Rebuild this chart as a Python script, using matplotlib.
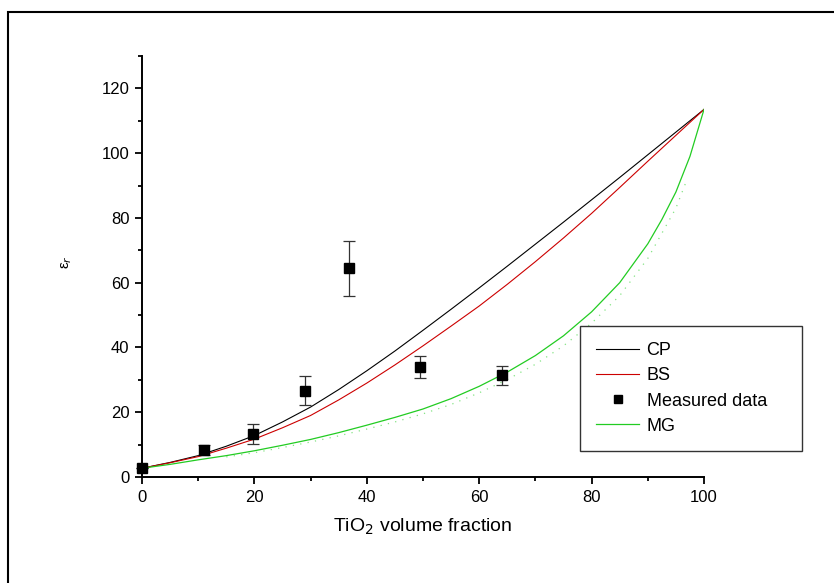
import matplotlib.pyplot as plt
from matplotlib.patches import Rectangle
from matplotlib.ticker import MultipleLocator

plt.rcParams['font.family'] = ['Liberation Sans', 'DejaVu Sans']

# model curves
frac = [0, 5, 10, 15, 20, 25, 30, 35, 40, 45, 50, 55, 60, 65, 70, 75, 80, 85, 90, 92.5, 95, 97.5, 100]
cp = [2.7, 4.5, 6.6, 9.5, 12.8, 17.0, 21.6, 27.0, 32.8, 38.9, 45.3, 51.8, 58.4, 65.1,
      71.9, 78.7, 85.6, 92.5, 99.5, 103.0, 106.5, 110.0, 113.5]
bs = [2.7, 4.4, 6.3, 8.9, 11.7, 15.2, 19.0, 23.8, 29.0, 34.6, 40.5, 46.6, 52.8, 59.5,
      66.5, 73.8, 81.4, 89.4, 97.5, 101.5, 105.5, 109.5, 113.5]
mg = [2.7, 3.9, 5.3, 6.6, 8.1, 9.8, 11.6, 13.7, 16.0, 18.4, 21.0, 24.2, 28.0, 32.4,
      37.5, 43.6, 51.0, 60.0, 72.0, 79.5, 88.0, 99.0, 113.5]

# faint dotted green trace just under MG
dot_frac = [15, 20, 25, 30, 35, 40, 45, 50, 55, 60, 65, 70, 75, 80, 85, 90, 95, 97]
dot_mg = [6.2, 7.5, 9.1, 10.8, 12.7, 14.8, 17.0, 19.5, 22.4, 26.0, 30.1, 34.8, 40.5,
          47.5, 56.0, 67.5, 83.0, 92.0]

# measured data
meas_frac = [0, 11, 19.8, 29, 36.9, 49.5, 64.1]
meas_eps = [2.7, 8.3, 13.3, 26.7, 64.5, 34.0, 31.4]
meas_err = [0.0, 1.5, 3.2, 4.5, 8.5, 3.3, 2.9]

fig = plt.figure(figsize=(8.34, 5.83), dpi=100)
ax = fig.add_axes([142/834, 1 - 477/583, 562/834, 421/583])

fig.patches.append(Rectangle((8/834, -0.1), 1.2, 1 - 12/583 + 0.1, transform=fig.transFigure,
                             fill=False, edgecolor='black', linewidth=1.5))

ax.plot(dot_frac, dot_mg, linestyle=(0, (1, 5)), linewidth=0.9, color='#66dd66', alpha=0.8)
l_cp, = ax.plot(frac, cp, color='black', linewidth=0.8, label='CP')
l_bs, = ax.plot(frac, bs, color='#cc0000', linewidth=0.8, label='BS')
l_mg, = ax.plot(frac, mg, color='#22cc22', linewidth=0.9, label='MG')
eb = ax.errorbar(meas_frac, meas_eps, yerr=meas_err, fmt='s', color='black', markersize=6.5,
                 ecolor='#333333', elinewidth=0.9, capsize=4, capthick=0.9, label='Measured data',
                 zorder=5, clip_on=False)

ax.set_xlim(0, 100)
ax.set_ylim(0, 130)
ax.xaxis.set_major_locator(MultipleLocator(20))
ax.xaxis.set_minor_locator(MultipleLocator(10))
ax.yaxis.set_minor_locator(MultipleLocator(10))
ax.set_yticks([0, 20, 40, 60, 80, 100, 120])

for s in ['top', 'right']:
    ax.spines[s].set_visible(False)
for s in ['left', 'bottom']:
    ax.spines[s].set_linewidth(1.4)

ax.tick_params(which='major', direction='out', length=5, width=1.3, labelsize=12, pad=4)
ax.tick_params(which='minor', direction='out', length=3, width=1.3)

ax.set_xlabel('TiO$_2$ volume fraction', fontsize=14, va='center')
ax.xaxis.set_label_coords(0.5, -(527 - 477) / 421)
ax.set_ylabel('ε$_r$', fontsize=11, va='center')
ax.yaxis.set_label_coords(-(142 - 67) / 562, 0.51)

leg = ax.legend([l_cp, l_bs, eb[0], l_mg], ['CP', 'BS', 'Measured data', 'MG'],
                loc='lower left', bbox_to_anchor=(0.779, 0.062, 0.395, 0.301), mode='expand',
                borderaxespad=0, fontsize=13, frameon=True, fancybox=False, framealpha=1,
                handlelength=2.4, handletextpad=0.4, labelspacing=0.45, borderpad=0.9,
                markerscale=0.8)
leg.get_frame().set_edgecolor('#333333')
leg.get_frame().set_linewidth(1.0)

fig.savefig('out.png', dpi=100)
